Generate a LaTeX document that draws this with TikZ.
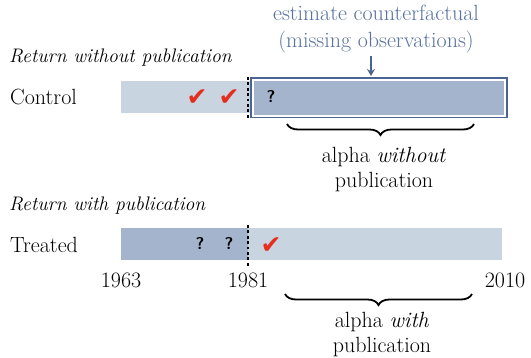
\documentclass[tikz,border=0pt]{standalone}
\usepackage{fontspec}
\newfontfamily\symf{DejaVu Sans}
\usetikzlibrary{decorations.pathreplacing,arrows.meta}
\definecolor{lightbar}{HTML}{C9D4E1}
\definecolor{darkbar}{HTML}{A3B4CC}
\definecolor{framec}{HTML}{4B6592}
\definecolor{bluetxt}{HTML}{5871A0}
\definecolor{checkred}{HTML}{E62E1E}
\begin{document}
\begin{tikzpicture}[x=1pt,y=-1pt,
  every node/.style={inner sep=0pt},
  txt/.style={font=\fontsize{22}{25}\selectfont},
  ital/.style={anchor=west, font=\itshape\fontsize{19.6}{24}\selectfont},
  lbl/.style={txt, anchor=west},
  qm/.style={font=\sffamily\bfseries\fontsize{17}{17}\selectfont},
  chk/.style={font=\symf\fontsize{25}{25}\selectfont, text=checkred},
  cut/.style={line width=2.8pt, dash pattern=on 2.8pt off 2.6pt},
  brc/.style={decorate, decoration={brace, mirror, amplitude=11pt}, line width=1.8pt},
  blue arrow/.style={draw=framec, line width=1.6pt, -{Stealth[length=7pt,width=8pt]}}]
\useasboundingbox (0,0) rectangle (531,357);
\fill[white] (0,0) rectangle (531,357);
% Control row
\node[ital] (rwo) at (9,58) {Return without publication};
\node[lbl] (ctrl) at (10,97) {Control};
\fill[lightbar] (121,81) rectangle (250,113);
\draw[framec, line width=1.6pt, fill=white] (250.8,78) rectangle (507,117.5);
\fill[darkbar] (253.5,81) rectangle (504,114.5);
\draw[cut] (248,77) -- (248,118);
\node[chk] (c1) at (197,98) {✔};
\node[chk] (c2) at (229,98) {✔};
\node[qm] (q0) at (271,97) {?};
\node[txt, text=bluetxt, align=center, font=\fontsize{22}{27}\selectfont] (est) at (376,29) {estimate counterfactual\\(missing observations)};
\coordinate (boxtop) at (371,76);
\draw[blue arrow] (est.south -| boxtop) ++(0,3) -- (boxtop);
\draw[brc] (287,124) -- (474,124);
\node[txt, align=center] (awo) at (384,170) {alpha \textit{without}\\publication};
% Treated row
\node[ital] (rw) at (9,206) {Return with publication};
\node[lbl] (trt) at (10,245) {Treated};
\fill[darkbar] (121,228) rectangle (248,260);
\fill[lightbar] (248,228) rectangle (502,260);
\draw[cut] (248,225) -- (248,267);
\node[qm] (q1) at (200,244) {?};
\node[qm] (q2) at (229,244) {?};
\node[chk] (c3) at (271,246) {✔};
\node[txt] (y1) at (121,280) {1963};
\node[txt] (y2) at (248,280) {1981};
\node[txt] (y3) at (505,280) {2010};
\draw[brc] (285,294) -- (472,294);
\node[txt, align=center] (aw) at (382,335) {alpha \textit{with}\\publication};
\end{tikzpicture}
\end{document}
